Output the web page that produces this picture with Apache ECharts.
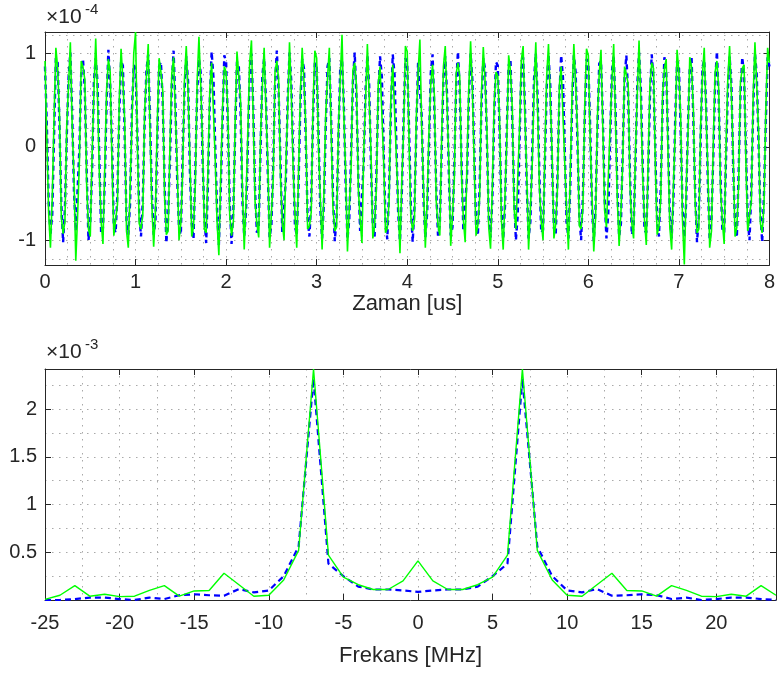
<!DOCTYPE html>
<html><head><meta charset="utf-8">
<script src="https://cdn.jsdelivr.net/npm/echarts@6/dist/echarts.min.js"></script>
<style>html,body{margin:0;padding:0;background:#fff}#c{width:778px;height:675px}</style>
</head><body><div id="c"></div>
<script>
// ---------- DATA ----------
const timeStepUs = 0.02; // sample period (50 MHz)
// time-domain signals, units of 1e-4
const timeBlue = [
0.86,0.25,-0.58,-0.95,-0.72,0.12,0.95,0.90,0.22,-0.61,-1.02,-0.66,0.10,0.74,1.01,0.36,-0.47,-0.90,-0.88,-0.01,0.80,0.93,0.60,-0.25,-1.00,-0.80,-0.27,0.70,0.95,0.69,-0.12,-0.93,-0.87,-0.38,0.47,1.04,0.66,-0.01,-0.86,-0.92,-0.49,0.36,0.92,0.87,0.13,-0.79,-0.94,-0.60,0.38,0.88,
0.84,0.14,-0.70,-0.96,-0.58,0.26,0.82,0.99,0.27,-0.50,-0.94,-0.79,0.12,0.86,0.91,0.49,-0.37,-1.03,-0.75,-0.12,0.67,1.03,0.47,-0.36,-0.87,-0.94,-0.13,0.59,0.97,0.70,-0.25,-0.82,-0.99,-0.25,0.58,0.94,0.79,-0.12,-0.75,-1.03,-0.37,0.49,1.02,0.75,0.00,-0.68,-1.05,-0.48,0.26,0.98,
0.91,0.23,-0.61,-1.04,-0.68,0.15,0.91,0.87,0.36,-0.57,-0.96,-0.69,0.02,0.77,1.00,0.40,-0.48,-0.92,-0.85,-0.03,0.76,0.95,0.51,-0.27,-0.97,-0.84,-0.22,0.68,1.03,0.60,-0.16,-0.91,-0.89,-0.35,0.51,1.01,0.70,-0.09,-0.84,-0.95,-0.40,0.46,0.94,0.84,0.09,-0.76,-0.96,-0.57,0.34,0.90,
0.85,0.16,-0.67,-0.98,-0.61,0.22,0.86,0.95,0.28,-0.52,-1.01,-0.75,0.08,0.84,0.94,0.46,-0.40,-0.99,-0.78,-0.09,0.70,1.01,0.52,-0.33,-0.90,-0.91,-0.16,0.61,0.98,0.66,-0.21,-0.85,-0.96,-0.28,0.56,0.97,0.75,-0.04,-0.79,-0.99,-0.45,0.41,0.99,0.78,0.04,-0.71,-1.01,-0.51,0.29,0.95,
0.89,0.21,-0.62,-1.02,-0.66,0.17,0.90,0.91,0.33,-0.56,-0.97,-0.71,0.04,0.79,0.99,0.41,-0.45,-0.95,-0.83,-0.04,0.75,0.97,0.56,-0.29,-0.95,-0.86,-0.21,0.66,1.02,0.62,-0.17,-0.90,-0.91,-0.33,0.52,1.00,0.71,-0.08,-0.83,-0.95,-0.41,0.45,0.95,0.83,0.08,-0.75,-0.97,-0.56,0.33,0.91,
0.87,0.18,-0.65,-0.99,-0.63,0.20,0.87,0.94,0.30,-0.53,-1.00,-0.74,0.07,0.82,0.96,0.44,-0.42,-0.98,-0.80,-0.07,0.72,1.00,0.53,-0.32,-0.92,-0.89,-0.18,0.63,0.99,0.65,-0.20,-0.87,-0.94,-0.30,0.55,0.98,0.74,-0.05,-0.80,-0.98,-0.44,0.42,0.98,0.80,0.05,-0.72,-1.00,-0.53,0.30,0.94,
0.90,0.22,-0.63,-1.01,-0.65,0.18,0.89,0.92,0.32,-0.55,-0.98,-0.72,0.05,0.80,0.98,0.42,-0.44,-0.96,-0.82,-0.05,0.74,0.98,0.55,-0.30,-0.94,-0.87,-0.20,0.65,1.01,0.63,-0.18,-0.89,-0.92,-0.32,0.53,0.99,0.72,-0.07,-0.82,-0.96,-0.42,0.44,0.96,0.82,0.07,-0.74,-0.98,-0.55,0.32,0.92,
0.88,0.17,-0.66,-0.97,-0.60,0.23,0.85,0.96,0.29,-0.51,-1.02,-0.76,0.09,0.85,0.93,0.47,-0.39,-1.00,-0.77,-0.10,0.69,1.02,0.51,-0.34,-0.89,-0.92,-0.15,0.60,0.97,0.67,-0.22,-0.84,-0.97,-0.27,0.57,0.96,0.76,-0.03,-0.78,-1.00,-0.46,0.40,1.00,0.77,0.03,-0.70,-1.02,-0.50,0.28,0.96,
0.86];
const timeGreen = [
0.92,0.10,-0.70,-1.08,-0.55,0.30,1.06,0.84,0.35,-0.75,-0.93,-0.80,0.22,0.66,1.12,0.24,-0.35,-1.22,-0.74,-0.15,0.92,0.85,0.72,-0.40,-0.88,-0.96,-0.10,0.58,1.16,0.55,-0.28,-0.80,-1.04,-0.22,0.60,0.94,0.80,-0.18,-0.95,-0.78,-0.62,0.50,1.05,0.72,0.28,-0.90,-1.08,-0.44,0.25,1.00,
1.23,0.05,-0.82,-0.88,-0.72,0.38,0.76,1.10,0.15,-0.62,-1.07,-0.68,0.25,0.95,0.80,0.60,-0.52,-0.94,-0.90,0.02,0.78,0.96,0.35,-0.22,-1.00,-0.82,-0.28,0.72,1.08,0.58,-0.10,-0.96,-0.86,-0.40,0.70,1.18,0.66,0.02,-0.88,-0.92,-0.25,0.62,0.90,0.88,-0.14,-0.80,-1.16,-0.35,0.40,0.86,
0.80,0.35,-0.74,-0.95,-0.80,0.28,1.02,0.76,0.48,-0.45,-1.10,-0.58,0.15,0.90,1.14,0.28,-0.60,-0.82,-0.97,0.10,0.65,1.06,0.40,-0.15,-1.08,-0.72,-0.35,0.80,0.92,0.72,-0.30,-0.80,-1.00,-0.20,0.40,1.12,0.58,-0.22,-0.72,-1.08,-0.28,0.58,1.06,0.70,0.22,-0.88,-0.85,-0.70,0.45,1.03,
0.95,0.02,-0.55,-1.10,-0.50,0.35,0.74,1.06,0.18,-0.65,-0.90,-0.86,0.20,0.72,1.20,0.34,-0.28,-1.12,-0.66,-0.22,0.82,0.90,0.65,-0.45,-0.78,-1.03,-0.05,0.50,1.10,0.54,-0.08,-0.98,-0.84,-0.42,0.68,0.86,0.88,-0.16,-0.92,-0.87,-0.58,0.55,0.88,0.90,-0.10,-0.60,-1.14,-0.38,0.18,1.08,
1.02,0.08,-0.75,-0.90,-0.78,0.30,0.80,1.15,0.20,-0.44,-1.08,-0.60,0.16,0.68,0.88,0.55,-0.58,-0.84,-0.95,0.08,0.86,1.08,0.44,-0.18,-1.06,-0.74,-0.34,0.78,0.90,0.75,-0.30,-0.78,-1.02,-0.20,0.64,1.13,0.60,-0.20,-0.95,-0.84,-0.54,0.58,1.07,0.70,0.20,-0.86,-1.09,-0.44,0.46,0.80,
0.76,0.30,-0.78,-1.10,-0.52,0.08,0.98,0.82,0.42,-0.66,-0.88,-0.86,0.18,0.93,1.08,0.32,-0.30,-1.10,-0.68,-0.20,0.60,1.12,0.40,-0.44,-0.80,-1.00,-0.06,0.75,1.10,0.52,-0.08,-0.98,-0.82,-0.42,0.66,0.86,0.86,-0.18,-0.68,-1.10,-0.32,0.54,1.10,0.68,0.18,-0.84,-0.88,-0.66,0.42,1.05,
0.98,0.10,-0.52,-1.12,-0.76,0.30,0.78,1.04,0.20,-0.68,-0.86,-0.84,0.18,0.70,1.10,0.30,-0.56,-1.06,-0.70,-0.16,0.86,0.88,0.68,-0.42,-0.82,-0.98,-0.08,0.55,1.14,0.50,-0.30,-0.78,-1.05,-0.20,0.66,0.90,0.84,-0.20,-0.94,-0.85,-0.55,0.56,0.84,0.94,-0.06,-0.86,-1.10,-0.42,0.20,1.04,
0.80,0.30,-0.78,-1.26,-0.48,0.12,0.96,0.85,0.40,-0.62,-0.92,-0.88,0.22,0.76,1.06,0.36,-0.26,-1.08,-0.90,0.04,0.80,0.92,0.62,-0.46,-0.80,-1.04,-0.04,0.72,1.08,0.56,-0.10,-0.96,-0.86,-0.40,0.70,0.84,0.88,-0.15,-0.90,-0.90,-0.58,0.52,1.12,0.66,0.16,-0.82,-0.92,-0.62,0.40,1.06,
0.90];
// spectrum, units of 1e-3
const freqMHz = [-25,-24,-23,-22,-21,-20,-19,-18,-17,-16,-15,-14,-13,-12,-11,-10,-9,-8,-7,-6,-5,-4,-3,-2,-1,0,1,2,3,4,5,6,7,8,9,10,11,12,13,14,15,16,17,18,19,20,21,22,23,24];
const specGreen = [0.007,0.05,0.15,0.04,0.06,0.035,0.04,0.10,0.15,0.04,0.095,0.10,0.28,0.16,0.04,0.05,0.21,0.52,2.42,0.47,0.24,0.16,0.11,0.11,0.20,0.41,0.20,0.11,0.11,0.16,0.24,0.47,2.42,0.52,0.21,0.05,0.04,0.16,0.28,0.10,0.095,0.04,0.15,0.10,0.04,0.035,0.06,0.04,0.15,0.05];
const specBlue = [0.0,0.0,0.01,0.025,0.025,0.01,0.0,0.025,0.01,0.05,0.06,0.05,0.045,0.115,0.08,0.10,0.25,0.56,2.32,0.38,0.25,0.14,0.11,0.11,0.10,0.085,0.10,0.11,0.11,0.14,0.25,0.38,2.32,0.56,0.25,0.10,0.08,0.115,0.045,0.05,0.06,0.05,0.01,0.025,0.0,0.01,0.025,0.025,0.01,0.0];
// ticks and grid values
const topXTicks = [0,1,2,3,4,5,6,7,8];
const topXGrid = [0,0.25,0.5,0.75,1,1.25,1.5,1.75,2,2.25,2.5,2.75,3,3.25,3.5,3.75,4,4.25,4.5,4.75,5,5.25,5.5,5.75,6,6.25,6.5,6.75,7,7.25,7.5,7.75,8];
const topYTicks = [-1,0,1];
const topYGrid = [-1.2,-1,-0.8,-0.6,-0.4,-0.2,0,0.2,0.4,0.6,0.8,1,1.2];
const botXTicks = [-25,-20,-15,-10,-5,0,5,10,15,20];
const botXGrid = [-25,-22.5,-20,-17.5,-15,-12.5,-10,-7.5,-5,-2.5,0,2.5,5,7.5,10,12.5,15,17.5,20,22.5];
const botYTicks = [0.5,1,1.5,2];
const botYGrid = [0.25,0.5,0.75,1,1.25,1.5,1.75,2,2.25];

// ---------- CHART ----------
const FONT = 'Liberation Sans, Arial, Helvetica, sans-serif';
const INK = '#262626';
const TICK_FS = 20;
const NAME_FS = 22;
const gridLine = {show:true, lineStyle:{color:'#a9a9a9', width:1, type:[1.5,5.5]}};

function mainAxis(grid, pos, min, max, ticks, extra) {
  return Object.assign({
    type:'value', gridIndex:grid, position:pos, min:min, max:max,
    axisLine:{show:true, onZero:false, lineStyle:{color:INK, width:1}},
    axisTick:{show:true, inside:true, length:6, customValues:ticks, lineStyle:{color:INK}},
    axisLabel:{show:true, customValues:ticks, color:INK, fontSize:TICK_FS, fontFamily:FONT},
    splitLine:{show:false}
  }, extra||{});
}
function boxAxis(grid, pos, min, max, ticks) {
  return {
    type:'value', gridIndex:grid, position:pos, min:min, max:max,
    axisLine:{show:true, onZero:false, lineStyle:{color:INK, width:1}},
    axisTick:{show:true, inside:true, length:6, customValues:ticks, lineStyle:{color:INK}},
    axisLabel:{show:false}, splitLine:{show:false}
  };
}
function gridAxis(grid, pos, min, max, vals, step) {
  return {
    type:'value', gridIndex:grid, position:pos, min:min, max:max, interval:step,
    axisLine:{show:false}, axisTick:{show:false, customValues:vals},
    axisLabel:{show:false}, splitLine:gridLine
  };
}
function lbl(ticks, margin) {
  return {show:true, customValues:ticks, color:INK, fontSize:TICK_FS, fontFamily:FONT, margin:margin};
}

const TOP_MIN = -1.265, TOP_MAX = 1.23;
const BOT_MIN = 0, BOT_MAX = 2.42;

const chart = echarts.init(document.getElementById('c'), null, {renderer:'canvas'});
chart.setOption({
  animation:false,
  backgroundColor:'#ffffff',
  grid:[
    {left:45, top:32, width:727, height:233},
    {left:45, top:369, width:731, height:231}
  ],
  xAxis:[
    mainAxis(0,'bottom',0,8,topXTicks,{name:'Zaman [us]', nameLocation:'middle', nameGap:26,
      nameTextStyle:{color:INK, fontSize:NAME_FS, fontFamily:FONT}, axisLabel:lbl(topXTicks,7)}),
    boxAxis(0,'top',0,8,topXTicks),
    gridAxis(0,'bottom',0,8,topXGrid,0.25),
    mainAxis(1,'bottom',-25,24,botXTicks,{name:'Frekans [MHz]', nameLocation:'middle', nameGap:45,
      nameTextStyle:{color:INK, fontSize:NAME_FS, fontFamily:FONT}, axisLabel:lbl(botXTicks,13)}),
    boxAxis(1,'top',-25,24,botXTicks),
    gridAxis(1,'bottom',-25,24,botXGrid,2.5)
  ],
  yAxis:[
    mainAxis(0,'left',TOP_MIN,TOP_MAX,topYTicks,{axisLabel:lbl(topYTicks,9)}),
    boxAxis(0,'right',TOP_MIN,TOP_MAX,topYTicks),
    gridAxis(0,'left',TOP_MIN,TOP_MAX,topYGrid,0.2),
    mainAxis(1,'left',BOT_MIN,BOT_MAX,botYTicks,{axisLabel:lbl(botYTicks,8)}),
    boxAxis(1,'right',BOT_MIN,BOT_MAX,botYTicks),
    gridAxis(1,'left',BOT_MIN,BOT_MAX,botYGrid,0.25)
  ],
  graphic:[
    {type:'text', left:46, top:7, style:{text:'×10', fill:INK, fontSize:21, fontFamily:FONT}},
    {type:'text', left:85, top:2, style:{text:'-4', fill:INK, fontSize:15, fontFamily:FONT}},
    {type:'text', left:46, top:342, style:{text:'×10', fill:INK, fontSize:21, fontFamily:FONT}},
    {type:'text', left:85, top:337, style:{text:'-3', fill:INK, fontSize:15, fontFamily:FONT}}
  ],
  series:[
    {type:'line', xAxisIndex:0, yAxisIndex:0, showSymbol:false, silent:true, z:3,
      lineStyle:{color:'#0000ff', width:2.4, type:[5,4]},
      data: timeBlue.map((v,i)=>[i*timeStepUs, v])},
    {type:'line', xAxisIndex:0, yAxisIndex:0, showSymbol:false, silent:true, z:4,
      lineStyle:{color:'#00ff00', width:1.6},
      data: timeGreen.map((v,i)=>[i*timeStepUs, v])},
    {type:'line', xAxisIndex:3, yAxisIndex:3, showSymbol:false, silent:true, z:3,
      lineStyle:{color:'#0000ff', width:2.2, type:[6,4]},
      data: specBlue.map((v,i)=>[freqMHz[i], v])},
    {type:'line', xAxisIndex:3, yAxisIndex:3, showSymbol:false, silent:true, z:4,
      lineStyle:{color:'#00ff00', width:1.4},
      data: specGreen.map((v,i)=>[freqMHz[i], v])}
  ]
});
</script></body></html>
